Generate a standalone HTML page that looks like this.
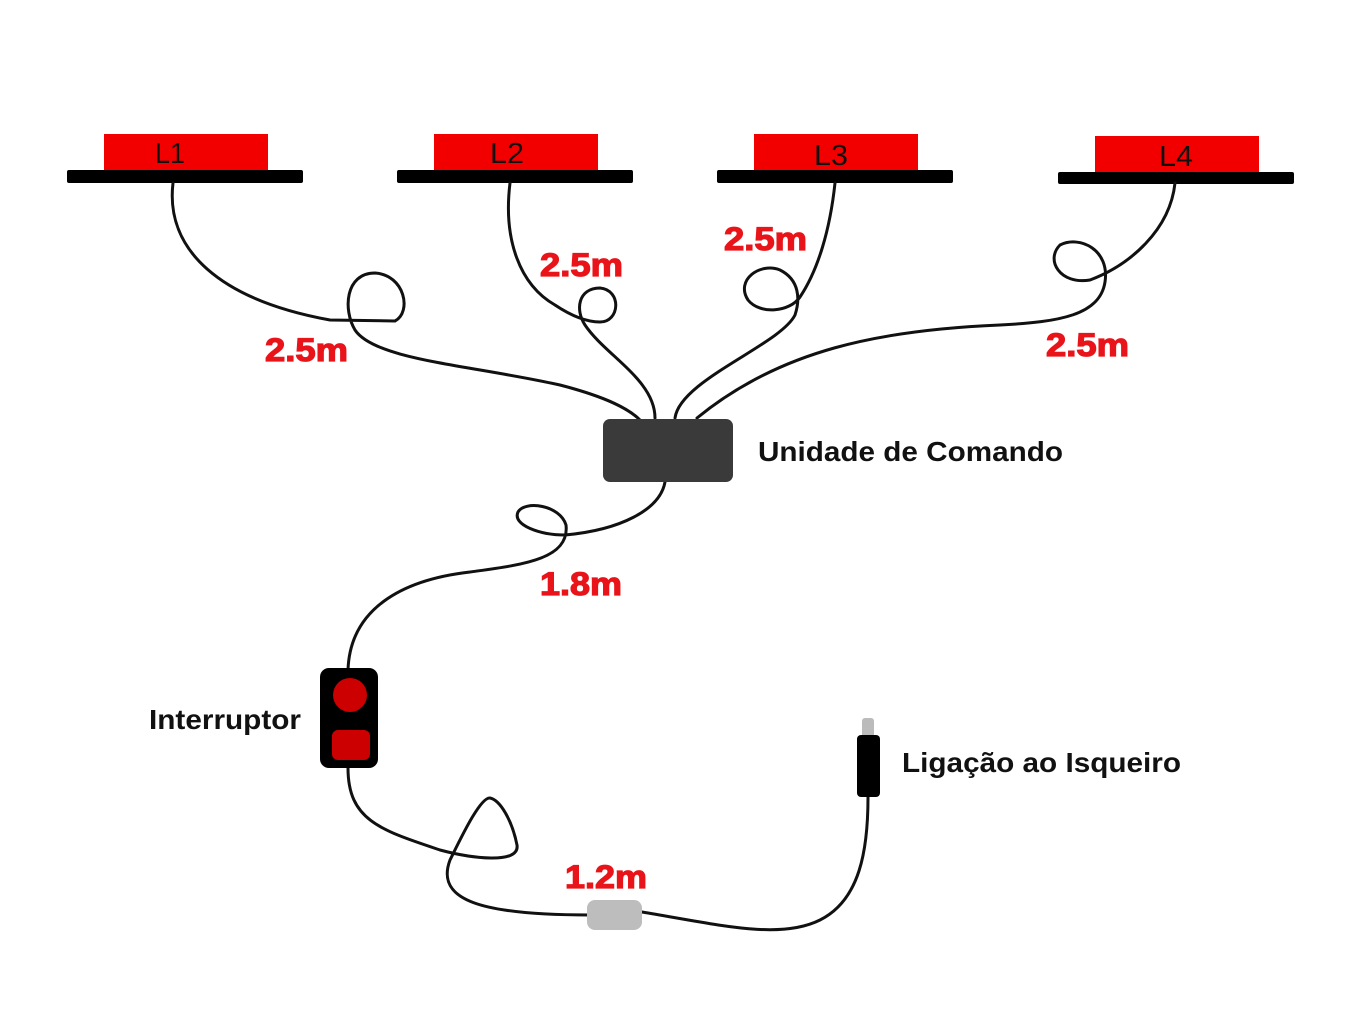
<!DOCTYPE html>
<html><head><meta charset="utf-8"><style>
html,body{margin:0;padding:0;background:#fff;}
svg{display:block;}
.r{font-family:"Liberation Sans",sans-serif;font-weight:bold;font-size:32px;fill:#e8141a;stroke:#e8141a;stroke-width:1.2;}
.b{font-family:"Liberation Sans",sans-serif;font-weight:bold;font-size:28px;fill:#111;}
.l{font-family:"Liberation Sans",sans-serif;font-size:29px;fill:#111;}
</style></head><body>
<svg width="1363" height="1035" viewBox="0 0 1363 1035">
<g fill="#f20000">
<rect x="104" y="134" width="164" height="38"/>
<rect x="434" y="134" width="164" height="38"/>
<rect x="754" y="134" width="164" height="38"/>
<rect x="1095" y="136" width="164" height="37"/>
</g>
<g fill="#000">
<rect x="67" y="170" width="236" height="13" rx="2"/>
<rect x="397" y="170" width="236" height="13" rx="2"/>
<rect x="717" y="170" width="236" height="13" rx="2"/>
<rect x="1058" y="172" width="236" height="12" rx="2"/>
</g>
<text class="l" x="155" y="163" textLength="30" lengthAdjust="spacingAndGlyphs">L1</text>
<text class="l" x="490" y="163" textLength="34" lengthAdjust="spacingAndGlyphs">L2</text>
<text class="l" x="814" y="165" textLength="34" lengthAdjust="spacingAndGlyphs">L3</text>
<text class="l" x="1159" y="166" textLength="34" lengthAdjust="spacingAndGlyphs">L4</text>
<g fill="none" stroke="#111" stroke-width="3" stroke-linecap="round">
<path d="M173,183 C165,250 220,300 330,320 L395,321 C412,312 405,275 375,273 C345,273 343,310 355,330 C375,360 470,365 560,385 C610,398 630,410 640,420"/>
<path d="M510,183 C503,240 520,285 555,305 C570,315 585,322 600,322 C620,322 622,290 600,288 C578,288 575,310 585,325 C605,355 655,380 655,418"/>
<path d="M835,183 C830,230 818,270 800,297 C790,312 760,315 748,300 C735,280 760,262 780,270 C800,280 800,300 795,315 C780,345 680,380 675,418"/>
<path d="M1175,183 C1170,230 1130,265 1090,280 C1060,285 1045,260 1060,245 C1080,235 1110,250 1105,282 C1100,315 1060,322 1000,325 C880,330 780,350 697,418"/>
<path d="M665,482 C660,510 620,530 565,535 C540,535 512,525 518,512 C525,500 560,505 566,525 C570,560 520,565 470,572 C400,580 350,610 348,670"/>
<path d="M348,768 C348,820 380,830 440,850 C470,858 520,865 517,845 C512,820 500,800 490,798 C480,797 460,840 450,860 C435,900 480,915 590,915"/>
<path d="M642,912 C720,925 780,940 820,920 C860,900 868,850 868,797"/>
</g>
<rect x="603" y="419" width="130" height="63" rx="7" fill="#3a3a3a"/>
<rect x="320" y="668" width="58" height="100" rx="9" fill="#000"/>
<circle cx="350" cy="695" r="17" fill="#cc0000"/>
<rect x="332" y="730" width="38" height="30" rx="6" fill="#cc0000"/>
<rect x="587" y="900" width="55" height="30" rx="8" fill="#bdbdbd"/>
<rect x="862" y="718" width="12" height="20" rx="3" fill="#bbb"/>
<rect x="857" y="735" width="23" height="62" rx="4" fill="#000"/>
<text class="r" x="265" y="361" textLength="83" lengthAdjust="spacingAndGlyphs">2.5m</text>
<text class="r" x="540" y="276" textLength="83" lengthAdjust="spacingAndGlyphs">2.5m</text>
<text class="r" x="724" y="250" textLength="83" lengthAdjust="spacingAndGlyphs">2.5m</text>
<text class="r" x="1046" y="356" textLength="83" lengthAdjust="spacingAndGlyphs">2.5m</text>
<text class="r" x="540" y="595" textLength="82" lengthAdjust="spacingAndGlyphs">1.8m</text>
<text class="r" x="565" y="888" textLength="82" lengthAdjust="spacingAndGlyphs">1.2m</text>
<text class="b" x="758" y="461" textLength="305" lengthAdjust="spacingAndGlyphs">Unidade de Comando</text>
<text class="b" x="149" y="729" textLength="152" lengthAdjust="spacingAndGlyphs">Interruptor</text>
<text class="b" x="902" y="772" textLength="279" lengthAdjust="spacingAndGlyphs">Ligação ao Isqueiro</text>
</svg>
</body></html>
